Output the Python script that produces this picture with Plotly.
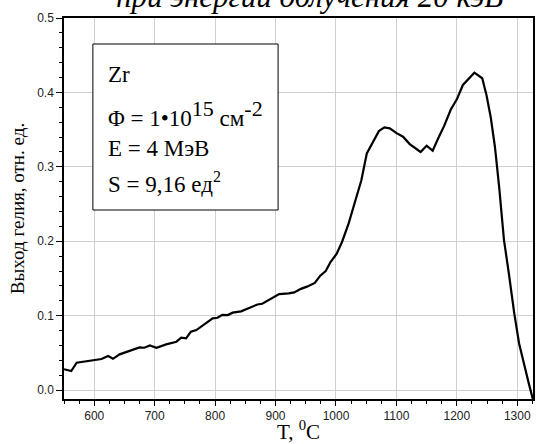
import plotly.graph_objects as go

# Data
temperature = [550, 562, 571, 598, 612, 623, 631, 642, 675, 683, 692, 703, 719, 736, 744, 752,
               760, 769, 785, 796, 804, 812, 821, 829, 843, 856, 870, 878, 892, 906, 922, 931,
               942, 952, 965, 974, 983, 991, 1001, 1010, 1021, 1032, 1042, 1051, 1061, 1071,
               1080, 1089, 1101, 1111, 1122, 1140, 1150, 1160, 1169, 1179, 1190, 1200, 1210,
               1229, 1242, 1249, 1256, 1263, 1270, 1278, 1286, 1295, 1303, 1312, 1319, 1326]
helium = [0.028, 0.0255, 0.0367, 0.040, 0.0417, 0.0457, 0.042, 0.048, 0.0574, 0.0569, 0.060,
          0.0569, 0.0614, 0.065, 0.0703, 0.0694, 0.0784, 0.0806, 0.0896, 0.0963, 0.0972, 0.101,
          0.1008, 0.104, 0.1058, 0.1106, 0.115, 0.116, 0.123, 0.129, 0.130, 0.1313, 0.136,
          0.139, 0.144, 0.1537, 0.160, 0.172, 0.183, 0.199, 0.224, 0.253, 0.282, 0.318, 0.334,
          0.348, 0.353, 0.3517, 0.345, 0.3405, 0.3306, 0.320, 0.3284, 0.3217, 0.338, 0.355,
          0.377, 0.3907, 0.41, 0.4265, 0.419, 0.3965, 0.367, 0.327, 0.273, 0.2016, 0.157,
          0.103, 0.0627, 0.0313, 0.009, -0.013]

x_ticks = [600, 700, 800, 900, 1000, 1100, 1200, 1300]
y_ticks = [0.0, 0.1, 0.2, 0.3, 0.4, 0.5]
y_tick_labels = ["0.0", "0.1", "0.2", "0.3", "0.4", "0.5"]

title_text = "при энергии облучения 20 кэВ"
box_lines = ["Zr",
             "Φ = 1•10<sup><span style='font-size:22px'>15</span></sup> см<sup><span style='font-size:22px'>-2</span></sup>",
             "E = 4 МэВ",
             "S = 9,16 ед<sup><span style='font-size:16px'>2</span></sup>"]

serif = "Liberation Serif"
sans = "Liberation Sans"

fig = go.Figure()
fig.add_trace(go.Scatter(x=temperature, y=helium, mode="lines",
                         line=dict(color="black", width=2.2), showlegend=False))

fig.update_layout(
    width=537, height=444,
    margin=dict(l=64, r=2, t=18, b=45),
    paper_bgcolor="white", plot_bgcolor="white",
    xaxis=dict(range=[550, 1326], tickvals=x_ticks, ticktext=[str(v) for v in x_ticks],
               showgrid=True, gridcolor="#cfcfcf", gridwidth=1, zeroline=False,
               showline=True, linecolor="black", linewidth=1.5, mirror=True,
               ticks="outside", ticklen=5, tickcolor="black", tickwidth=1,
               minor=dict(dtick=25, tick0=550, ticks="outside", ticklen=3, tickcolor="black", showgrid=False),
               tickfont=dict(family=sans, size=12, color="#222"),
               title=dict(text="T, <sup>0</sup>C", font=dict(family=serif, size=21, color="black"), standoff=0)),
    yaxis=dict(range=[-0.012, 0.5], tickvals=y_ticks, ticktext=y_tick_labels,
               showgrid=True, gridcolor="#cfcfcf", gridwidth=1, zeroline=False,
               showline=True, linecolor="black", linewidth=1.5, mirror=True,
               ticks="outside", ticklen=6, tickcolor="black", tickwidth=1,
               minor=dict(dtick=0.02, tick0=0, ticks="outside", ticklen=3, tickcolor="black", showgrid=False),
               tickfont=dict(family=sans, size=12, color="#222"),
               title=dict(text="Выход гелия, отн. ед.", font=dict(family=serif, size=19, color="black"), standoff=8)),
)

# Partially cut title at top
fig.add_annotation(text="<i>" + title_text + "</i>", xref="paper", yref="paper",
                   x=(311 - 64) / 471, y=1, xanchor="center", yanchor="bottom",
                   yshift=2, showarrow=False,
                   font=dict(family=serif, size=31, color="black"))

# Info box
fig.add_shape(type="rect", xref="paper", yref="paper",
              x0=(93 - 64) / 471, x1=(279 - 64) / 471,
              y0=(399 - 210) / 381, y1=(399 - 44) / 381,
              line=dict(color="black", width=1), fillcolor="white", layer="above")
line_ys = [75, 113, 148, 182]
for txt, ypx in zip(box_lines, line_ys):
    fig.add_annotation(text=txt, xref="paper", yref="paper",
                       x=(106 - 64) / 471, y=(399 - ypx) / 381,
                       xanchor="left", yanchor="middle", showarrow=False,
                       font=dict(family=serif, size=23, color="black"))

fig.write_html("out.html", config={"displayModeBar": False},
               post_script="document.body.style.margin='0';document.body.style.padding='0';")
